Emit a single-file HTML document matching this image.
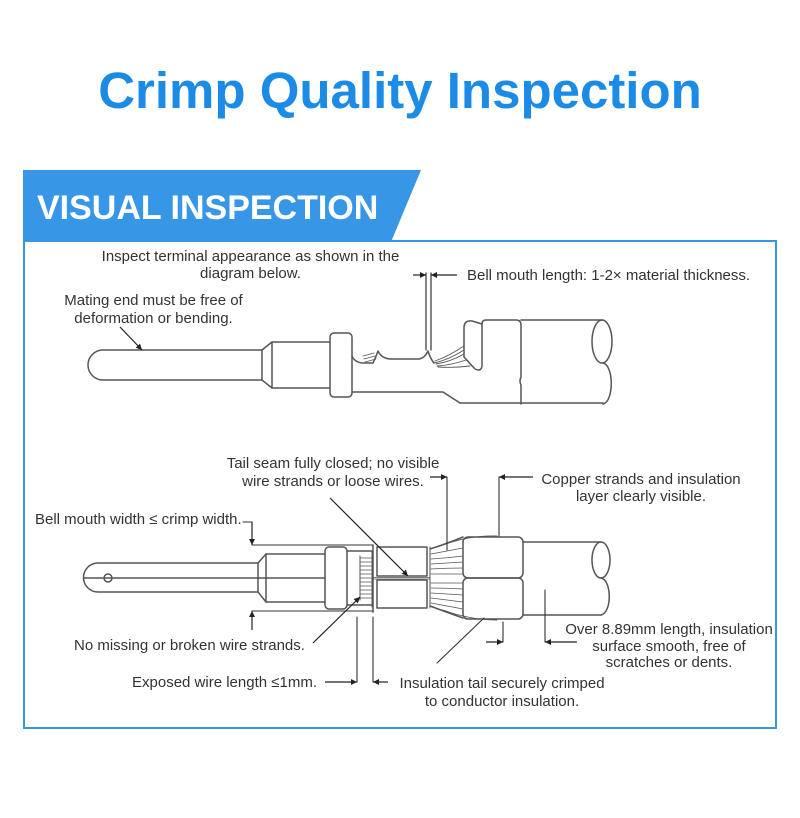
<!DOCTYPE html>
<html>
<head>
<meta charset="utf-8">
<style>
  html,body{margin:0;padding:0;background:#fff;}
  svg{display:block;}
</style>
</head>
<body>
<svg width="800" height="818" viewBox="0 0 800 818" xmlns="http://www.w3.org/2000/svg" font-family="'Liberation Sans', Arial, sans-serif">
  <defs>
    <marker id="ah" viewBox="0 0 10 10" refX="10" refY="5" markerWidth="7" markerHeight="6" orient="auto" markerUnits="userSpaceOnUse">
      <path d="M0,0 L10,5 L0,10 z" fill="#222"/>
    </marker>
  </defs>

  <!-- Title -->
  <text x="400" y="108" text-anchor="middle" font-size="51" font-weight="bold" fill="#1b8be6">Crimp Quality Inspection</text>

  <!-- Box -->
  <rect x="24" y="241" width="752" height="487" fill="none" stroke="#3797e6" stroke-width="2"/>
  <!-- Banner -->
  <polygon points="23,170 421,170 391,242 23,242" fill="#3797e6"/>
  <text x="37" y="219" font-size="34" font-weight="bold" fill="#fff">VISUAL INSPECTION</text>

  <!-- Labels -->
  <g font-size="15" fill="#333">
    <text x="250.5" y="261" text-anchor="middle">Inspect terminal appearance as shown in the</text>
    <text x="250.5" y="278" text-anchor="middle">diagram below.</text>
    <text x="467" y="280">Bell mouth length: 1-2× material thickness.</text>
    <text x="153.5" y="305" text-anchor="middle">Mating end must be free of</text>
    <text x="153.5" y="323" text-anchor="middle">deformation or bending.</text>

    <text x="333" y="468" text-anchor="middle">Tail seam fully closed; no visible</text>
    <text x="333" y="486" text-anchor="middle">wire strands or loose wires.</text>
    <text x="641" y="484" text-anchor="middle">Copper strands and insulation</text>
    <text x="641" y="501" text-anchor="middle">layer clearly visible.</text>
    <text x="35" y="524">Bell mouth width ≤ crimp width.</text>
    <text x="74" y="650">No missing or broken wire strands.</text>
    <text x="669" y="634" text-anchor="middle">Over 8.89mm length, insulation</text>
    <text x="669" y="651" text-anchor="middle">surface smooth, free of</text>
    <text x="669" y="667" text-anchor="middle">scratches or dents.</text>
    <text x="132" y="687">Exposed wire length ≤1mm.</text>
    <text x="502" y="688" text-anchor="middle">Insulation tail securely crimped</text>
    <text x="502" y="706" text-anchor="middle">to conductor insulation.</text>
  </g>

  <!-- ============ TOP TERMINAL ============ -->
  <g fill="none" stroke="#555" stroke-width="1.5" stroke-linejoin="round" stroke-linecap="round">
    <!-- pin -->
    <path d="M262,350 H103 A15,15 0 0 0 103,380 H262"/>
    <path d="M262,350 V380"/>
    <path d="M262,350 L272,342 M262,380 L272,388"/>
    <path d="M272,342 V388"/>
    <path d="M272,342 H330 M272,388 H330"/>
    <!-- flange -->
    <rect x="330" y="333" width="22" height="64" rx="4"/>
    <!-- upper profile -->
    <path d="M352,356 Q355,363 364,363 L373,363 Q376,357 378,351 Q381,358 390,359 L419,359 Q425,358 428,351 Q430,358 434,363"/>
    <!-- small strand hatch left -->
    <path d="M363,356 L374,353 M364,359 L375,356 M365,362 L376,359" stroke-width="0.9"/>
    <!-- strands to insulation crimp -->
    <path d="M434,363 Q448,360 464,350" stroke-width="0.9"/>
    <path d="M435,361 Q449,356 464,346" stroke-width="0.9"/>
    <path d="M436,364 Q450,362 464,354" stroke-width="0.9"/>
    <path d="M437,366 Q452,365 466,360" stroke-width="0.9"/>
    <path d="M438,367 Q454,368 470,366" stroke-width="0.9"/>
    <!-- lower profile -->
    <path d="M352,392 H443 L460,403 H603"/>
    <!-- insulation crimp lip -->
    <path d="M482,324 L472,321 Q464,320 464,328 L464,357 L475,369 Q481,372 482,366 Z"/>
    <!-- crimp main -->
    <path d="M482,324 Q482,320 486,320 H516 Q521,320 521,325 V377 Q519,381 521,385 V404"/>
    <!-- cable -->
    <path d="M521,320 H603"/>
    <ellipse cx="602" cy="341.5" rx="10" ry="21.5"/>
    <path d="M603,363 C614,365 614,402 603,404"/>
    <!-- bell mouth dimension -->
    <path d="M426,273 V350 M431,273 V350" stroke="#333" stroke-width="1.2"/>
  </g>
  <g stroke="#222" stroke-width="1.2" fill="none">
    <path d="M413,275 H426" marker-end="url(#ah)"/>
    <path d="M457,275 H431" marker-end="url(#ah)"/>
    <path d="M120,327 L142,350" marker-end="url(#ah)"/>
  </g>

  <!-- ============ BOTTOM TERMINAL ============ -->
  <g fill="none" stroke="#555" stroke-width="1.5" stroke-linejoin="round" stroke-linecap="round">
    <!-- pin -->
    <path d="M258,563 H98 A14.5,14.5 0 0 0 98,592 H258"/>
    <circle cx="108" cy="578" r="4"/>
    <path d="M84,578 H325"/>
    <path d="M258,563 V592 M258,563 L266,554 M258,592 L266,602 M266,554 V602"/>
    <path d="M266,554 H325 M266,602 H325"/>
    <!-- flange -->
    <rect x="325" y="547" width="22" height="62" rx="4"/>
    <path d="M347,551 H372 M347,605 H372"/>
    <!-- strand comb -->
    <path d="M360,556 V600 M372,551 V607" stroke-width="1"/>
    <path d="M360,558 H372 M360,562 H372 M360,566 H372 M360,570 H372 M360,574 H372 M360,578 H372 M360,582 H372 M360,586 H372 M360,590 H372 M360,594 H372 M360,598 H372" stroke-width="0.8"/>
    <!-- boundary vertical -->
    <path d="M373,545 V612"/>
    <!-- conductor crimp -->
    <path d="M377,547 H427 V576 H377 Z"/>
    <path d="M377,580 H427 V608 H377 Z"/>
    <path d="M373,577.5 H430 M373,579 H430" stroke-width="0.8"/>
    <path d="M430,547 V608" stroke-width="1"/>
    <!-- bell mouth strands fan -->
    <path d="M430,549 Q446,544 463,537"/>
    <path d="M430,606 Q446,612 463,618"/>
    <path d="M431,554 Q447,551 463,548 M431,559 Q447,558 463,556 M431,564 Q447,563 463,562 M431,569 Q447,568 463,568 M431,574 H463 M431,583 H463 M431,588 Q447,588 463,589 M431,593 Q447,594 463,595 M431,598 Q447,600 463,602 M431,603 Q447,606 463,609" stroke-width="0.8"/>
    <path d="M443,545 Q470,535 497,536 M443,610 Q470,620 497,620" stroke-width="0.9"/>
    <!-- insulation crimp -->
    <rect x="463" y="537" width="60" height="41" rx="5"/>
    <rect x="463" y="578" width="60" height="41" rx="5"/>
    <!-- cable -->
    <path d="M523,542 H601 M523,615 H601"/>
    <ellipse cx="601" cy="560" rx="9" ry="18"/>
    <path d="M601,578 C612,580 612,613 601,615"/>
    <!-- dimension extension lines -->
    <path d="M252,545 H373 M252,611 H373" stroke="#333" stroke-width="1.1"/>
    <path d="M243,522 H252" stroke="#333" stroke-width="1.1"/>
    <path d="M447,477 V550 M499,477 V536" stroke="#333" stroke-width="1.1"/>
    <path d="M357,617 V682 M373,617 V682" stroke="#333" stroke-width="1.1"/>
    <path d="M503,622 V642 M545,590 V642" stroke="#333" stroke-width="1.1"/>
    <path d="M437,663 L484,618" stroke="#333" stroke-width="1.1"/>
  </g>
  <g stroke="#222" stroke-width="1.2" fill="none">
    <path d="M252,522 V545" marker-end="url(#ah)"/>
    <path d="M252,630 V611" marker-end="url(#ah)"/>
    <path d="M430,477 H447" marker-end="url(#ah)"/>
    <path d="M533,477 H499" marker-end="url(#ah)"/>
    <path d="M330,498 L408,576" marker-end="url(#ah)"/>
    <path d="M313,643 L360,597" marker-end="url(#ah)"/>
    <path d="M325,682 H357" marker-end="url(#ah)"/>
    <path d="M388,682 H373" marker-end="url(#ah)"/>
    <path d="M486,642 H503" marker-end="url(#ah)"/>
    <path d="M577,642 H545" marker-end="url(#ah)"/>
  </g>
</svg>
</body>
</html>
